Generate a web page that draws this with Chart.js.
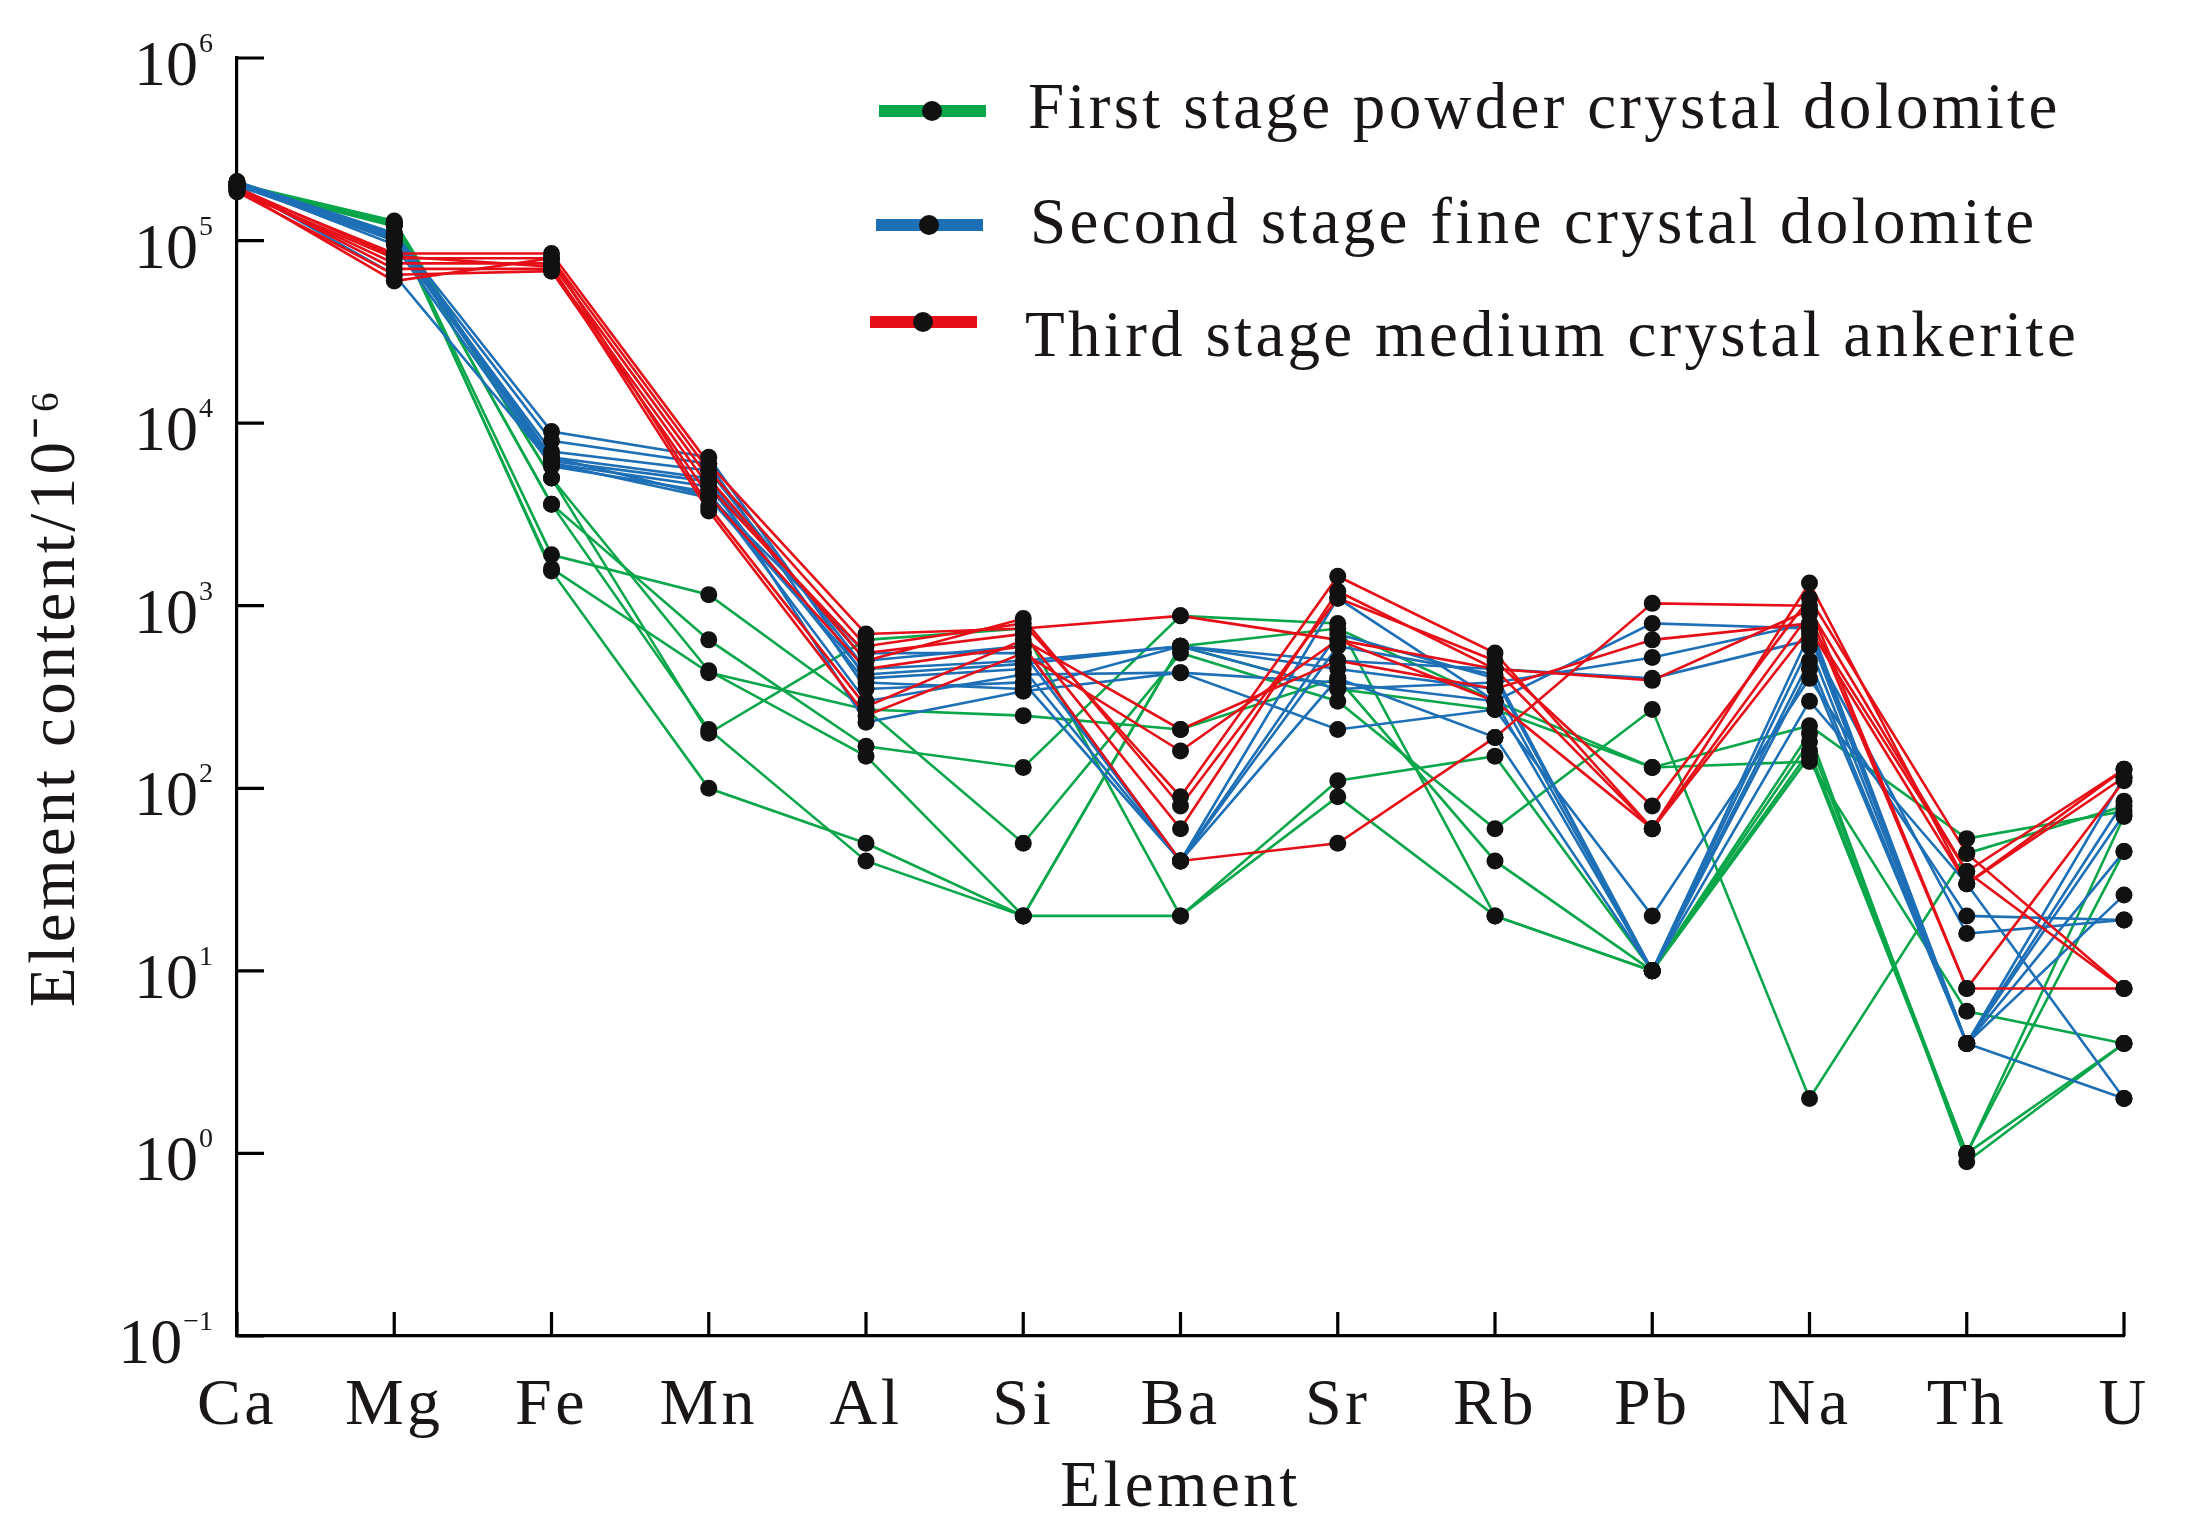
<!DOCTYPE html>
<html>
<head>
<meta charset="utf-8">
<script src="https://cdn.jsdelivr.net/npm/chart.js@4.4.1/dist/chart.umd.min.js"></script>
<style>
html,body{margin:0;padding:0;background:#fff;}
#wrap{width:2204px;height:1539px;position:relative;}
</style>
</head>
<body>
<div id="wrap"><canvas id="c" width="2204" height="1539"></canvas></div>
<script>
// ---------------- DATA ----------------
const elements = ['Ca','Mg','Fe','Mn','Al','Si','Ba','Sr','Rb','Pb','Na','Th','U'];
const yTickValues = [0.1, 1, 10, 100, 1000, 10000, 100000, 1000000];
const yTickBase = '10';
const yTickExponents = ['\u22121','0','1','2','3','4','5','6'];
const legendLabels = ['First stage powder crystal dolomite','Second stage fine crystal dolomite','Third stage medium crystal ankerite'];

// First stage powder crystal dolomite (green)
const green1 = [205000,128000,5000,200,650,750,20,110,150,10,180,1,70];
const green2 = [200000,125000,3600,650,170,130,880,800,20,10,160,1,45];
const green3 = [200000,122000,1900,1150,270,50,550,300,60,270,2,44,80];
const green4 = [198000,120000,1600,430,270,250,210,400,40,10,150,1,4];
const green5 = [200000,124000,1550,100,50,20,20,90,20,10,200,0.9,4];
const green6 = [202000,126000,3600,210,40,20,600,350,270,130,140,6,4];
const green7 = [200000,123000,5000,440,150,20,600,750,300,130,220,53,75];

// Second stage fine crystal dolomite (blue)
const blue1 = [210000,110000,9000,6500,400,450,40,1100,300,10,700,4,115];
const blue2 = [205000,105000,8000,6000,350,380,40,700,400,10,600,4,85];
const blue3 = [200000,100000,7000,5500,450,500,600,450,350,10,500,4,45];
const blue4 = [210000,108000,6500,5000,230,340,430,210,270,20,400,20,19];
const blue5 = [205000,102000,6200,4800,500,600,40,400,190,10,300,30,2];
const blue6 = [200000,106000,6000,4500,380,350,600,500,450,400,650,16,19];
const blue7 = [205000,95000,5800,4200,300,420,430,380,300,800,750,4,26];
const blue8 = [210000,100000,6500,4000,550,550,40,600,420,10,450,4,2];
const blue9 = [200000,65000,6000,3900,420,480,600,350,380,520,800,4,72];

// Third stage medium crystal ankerite (red)
const red1 = [190000,85000,85000,6000,700,750,880,650,450,390,950,35,127];
const red2 = [185000,80000,80000,5500,600,800,90,1450,550,60,1330,30,115];
const red3 = [190000,75000,75000,5000,500,850,80,1100,500,80,1100,44,8];
const red4 = [195000,70000,70000,4500,550,700,60,1200,450,60,900,8,8];
const red5 = [185000,65000,68000,4000,450,600,40,50,190,1030,1000,8,110];
const red6 = [190000,60000,80000,3500,280,650,210,500,350,650,800,35,8];
const red7 = [195000,82000,72000,3300,250,550,160,650,300,60,750,30,127];

const greenSeries = [green1,green2,green3,green4,green5,green6,green7];
const blueSeries = [blue1,blue2,blue3,blue4,blue5,blue6,blue7,blue8,blue9];
const redSeries = [red1,red2,red3,red4,red5,red6,red7];

// ---------------- STYLE ----------------
const GREEN = '#0AA64A', BLUE = '#1D6FB6', RED = '#E60F17';
const legendColors = [GREEN, BLUE, RED];
const FONT = "'Liberation Serif','Times New Roman',serif";
const TEXT = '#1a1616';

function mk(series, color, label){
  return series.map((d,i)=>({
    label: label + ' ' + (i+1),
    data: d,
    borderColor: color,
    backgroundColor: color,
    borderWidth: 2.6,
    pointRadius: 0,
    pointHoverRadius: 0,
    tension: 0,
    clip: false
  }));
}
const datasets = [].concat(
  mk(redSeries, RED, legendLabels[2]),
  mk(blueSeries, BLUE, legendLabels[1]),
  mk(greenSeries, GREEN, legendLabels[0])
);

const letterSpacingPlugin = {
  id:'ls',
  beforeDraw(chart){ chart.ctx.letterSpacing = '3.4px'; }
};

const innerTicks = {
  id:'innerTicks',
  beforeDatasetsDraw(chart){
    const {ctx, scales:{x,y}, chartArea} = chart;
    ctx.save();
    ctx.strokeStyle = '#000';
    ctx.lineWidth = 3.2;
    ctx.beginPath();
    yTickValues.forEach(v=>{
      const py = y.getPixelForValue(v);
      ctx.moveTo(chartArea.left, py);
      ctx.lineTo(chartArea.left + 27, py);
    });
    elements.forEach((e,i)=>{
      const px = x.getPixelForValue(i);
      ctx.moveTo(px, chartArea.bottom);
      ctx.lineTo(px, chartArea.bottom - 24);
    });
    ctx.stroke();
    ctx.restore();
  },
  afterDraw(chart){
    // y tick labels: "10" with a raised exponent
    const {ctx, scales:{y}, chartArea} = chart;
    ctx.save();
    ctx.letterSpacing = '0px';
    ctx.fillStyle = TEXT;
    ctx.textBaseline = 'alphabetic';
    yTickValues.forEach((v,i)=>{
      const py = y.getPixelForValue(v);
      const exp = yTickExponents[i];
      ctx.font = '28px ' + FONT;
      const ew = ctx.measureText(exp).width;
      const expRight = chartArea.left - 24;
      ctx.textAlign = 'left';
      ctx.fillText(exp, expRight - ew, py - 6);
      ctx.font = '64px ' + FONT;
      ctx.textAlign = 'right';
      ctx.fillText(yTickBase, expRight - ew - 1, py + 27);
    });
    ctx.restore();
  }
};

const pointDots = {
  id:'pointDots',
  afterDatasetsDraw(chart){
    const ctx = chart.ctx;
    ctx.save();
    ctx.fillStyle = '#111';
    chart.data.datasets.forEach((ds,i)=>{
      const meta = chart.getDatasetMeta(i);
      meta.data.forEach(pt=>{
        ctx.beginPath();
        ctx.arc(pt.x, pt.y, 8.5, 0, Math.PI*2);
        ctx.fill();
      });
    });
    ctx.restore();
  }
};

const customLegend = {
  id:'customLegend',
  afterDraw(chart){
    const ctx = chart.ctx;
    const lineY = [111, 225, 322];
    const lineX0 = [879, 876, 870];
    const textX = [1028, 1030, 1025];
    const baseY = [128, 243, 356];
    ctx.save();
    legendLabels.forEach((t,i)=>{
      const y = lineY[i];
      ctx.strokeStyle = legendColors[i];
      ctx.lineWidth = 12;
      ctx.lineCap = 'butt';
      ctx.beginPath();
      ctx.moveTo(lineX0[i], y);
      ctx.lineTo(lineX0[i] + 107, y);
      ctx.stroke();
      ctx.fillStyle = '#111';
      ctx.beginPath();
      ctx.arc(lineX0[i] + 53, y, 10, 0, Math.PI*2);
      ctx.fill();
      ctx.fillStyle = TEXT;
      ctx.letterSpacing = '3.3px';
      ctx.font = "65px " + FONT;
      ctx.textBaseline = 'alphabetic';
      ctx.textAlign = 'left';
      ctx.fillText(t, textX[i], baseY[i]);
    });
    ctx.restore();
  }
};

new Chart(document.getElementById('c'), {
  type:'line',
  data:{ labels: elements, datasets },
  options:{
    responsive:false,
    devicePixelRatio:1,
    animation:false,
    layout:{ padding:{ top:58, right:80, left:0, bottom:0 } },
    plugins:{ legend:{display:false}, tooltip:{enabled:false} },
    scales:{
      x:{
        type:'category',
        offset:false,
        grid:{ display:false },
        border:{ display:true, color:'#000', width:3.2 },
        ticks:{ autoSkip:false, maxRotation:0, padding:23, color:TEXT, font:{ family:FONT, size:66 } },
        title:{ display:true, text:'Element', color:TEXT, font:{ family:FONT, size:65, lineHeight:1 }, padding:{ top:0, bottom:18 } },
        afterFit(scale){ scale.height = 203; }
      },
      y:{
        type:'logarithmic',
        min:0.1, max:1000000,
        grid:{ display:false },
        border:{ display:true, color:'#000', width:3.2 },
        afterBuildTicks(scale){ scale.ticks = yTickValues.map(v=>({value:v})); },
        ticks:{ display:false, autoSkip:false },
        title:{ display:true, text:'Element content/10\u207B\u2076', color:TEXT, font:{ family:FONT, size:65, lineHeight:1 }, padding:{ top:24, bottom:0 } },
        afterFit(scale){ scale.width = 237; }
      }
    }
  },
  plugins:[letterSpacingPlugin, innerTicks, pointDots, customLegend]
});
</script>
</body>
</html>
